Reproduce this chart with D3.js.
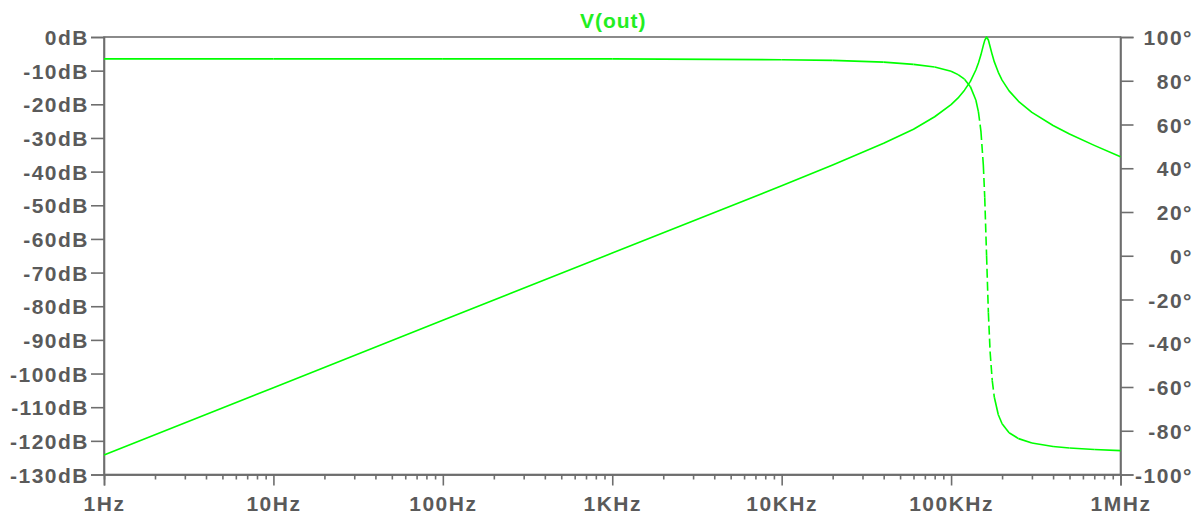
<!DOCTYPE html>
<html>
<head>
<meta charset="utf-8">
<script src="https://cdn.jsdelivr.net/npm/d3@7"></script>
<style>
  html, body { margin: 0; padding: 0; background: #ffffff; }
  svg { display: block; }
  .lbl { font-family: "Liberation Sans", Arial, sans-serif; font-weight: bold; font-size: 21px; fill: #5a5a5a; letter-spacing: 1.5px; }
</style>
</head>
<body>
<svg id="chart" width="1203" height="519"></svg>
<script>
// AC sweep of V(out): frequency (Hz), magnitude (dB), phase (degrees)
const freq = [1, 10, 100, 1e3, 1e4, 2e4, 4e4, 6e4, 8e4, 1e5, 1.1e5, 1.2e5, 1.3e5, 1.4e5, 1.45e5,
  1.5e5, 1.55e5, 1.58e5, 1.62e5, 1.66e5, 1.7e5, 1.75e5, 1.8e5, 1.9e5, 2e5, 2.2e5, 2.5e5,
  3e5, 4e5, 5e5, 7e5, 1e6];
const magDb = [-124.2, -104.2, -84.2, -64.2, -44.2, -38.0, -31.6, -27.4, -23.7, -20.1, -18.1,
  -15.8, -13.2, -9.8, -7.7, -5.3, -2.5, -1.0, 0.0, -0.9, -2.9, -5.3, -7.4, -10.5, -12.8,
  -16.0, -19.1, -22.4, -26.3, -28.8, -32.2, -35.6];
const phaseDeg = [90.0, 90.0, 90.0, 90.0, 89.6, 89.3, 88.5, 87.5, 86.3, 84.3, 82.8, 80.7, 77.3,
  71.2, 65.8, 57.0, 41.5, 26.6, 0.0, -26.0, -44.0, -57.1, -64.7, -72.7, -76.8, -80.9,
  -83.6, -85.6, -87.2, -87.9, -88.6, -89.1];

// Axis tick values and labels
const freqTicks = [1, 10, 100, 1e3, 1e4, 1e5, 1e6];
const freqLabels = ["1Hz", "10Hz", "100Hz", "1KHz", "10KHz", "100KHz", "1MHz"];
const dbTicks = [0, -10, -20, -30, -40, -50, -60, -70, -80, -90, -100, -110, -120, -130];
const degTicks = [100, 80, 60, 40, 20, 0, -20, -40, -60, -80, -100];
const traceName = "V(out)";

const svg = d3.select("#chart");
const L = 104, R = 1120.5, T = 37, B = 474.5;
const axisColor = "#6e6e6e";
const traceColor = "#00ff00";

const x = d3.scaleLog().domain([1, 1e6]).range([L, R]);
const yDb = d3.scaleLinear().domain([-130, 0]).range([B, T]);
const yDeg = d3.scaleLinear().domain([-100, 100]).range([B, T]);

// frame
const frame = svg.append("g").attr("stroke", axisColor).attr("stroke-width", 1.6).attr("fill", "none");
frame.append("rect").attr("x", L).attr("y", T).attr("width", R - L).attr("height", B - T);

// left dB axis
const leftAxis = d3.axisLeft(yDb).tickValues(dbTicks).tickSize(13).tickPadding(2)
  .tickFormat(d => d + "dB");
const gl = svg.append("g").attr("transform", `translate(${L},0)`).call(leftAxis);

// right phase axis
const rightAxis = d3.axisRight(yDeg).tickValues(degTicks).tickSize(13).tickPadding(0)
  .tickFormat(d => d + "°");
const gr = svg.append("g").attr("transform", `translate(${R},0)`).call(rightAxis);
gr.selectAll(".tick text").attr("text-anchor", "end").attr("x", 1193 - R);

// bottom frequency axis: major ticks with labels, minor ticks per decade
const minorTicks = [];
for (let d = 0; d < 6; d++) for (let m = 2; m <= 9; m++) minorTicks.push(m * Math.pow(10, d));
const gbMinor = svg.append("g").attr("transform", `translate(0,${B})`)
  .call(d3.axisBottom(x).tickValues(minorTicks).tickSize(5).tickFormat(""));
const gb = svg.append("g").attr("transform", `translate(0,${B})`)
  .call(d3.axisBottom(x).tickValues(freqTicks).tickSize(11).tickPadding(10)
    .tickFormat((d, i) => freqLabels[i]));

[gl, gr, gb, gbMinor].forEach(g => {
  g.select(".domain").attr("stroke", axisColor).attr("stroke-width", 1.6);
  g.selectAll(".tick line").attr("stroke", axisColor).attr("stroke-width", 1.6);
  g.selectAll(".tick text").attr("class", "lbl").attr("fill", null);
});
gl.selectAll(".tick text").attr("dy", "0.36em");
gr.selectAll(".tick text").attr("dy", "0.36em");
gb.selectAll(".tick text").attr("dy", "0.74em");

// magnitude trace (solid)
const magLine = d3.line().x((d, i) => x(freq[i])).y(d => yDb(d));
svg.append("path").datum(magDb).attr("d", magLine)
  .attr("fill", "none").attr("stroke", traceColor).attr("stroke-width", 1.6)
  .attr("stroke-linejoin", "round");

// phase trace: drawn segment by segment, steep segments dashed
const gPhase = svg.append("g").attr("fill", "none").attr("stroke", traceColor)
  .attr("stroke-width", 1.6).attr("stroke-linecap", "butt");
for (let i = 0; i < freq.length - 1; i++) {
  const x1 = x(freq[i]), y1 = yDeg(phaseDeg[i]);
  const x2 = x(freq[i + 1]), y2 = yDeg(phaseDeg[i + 1]);
  const steep = Math.abs(y2 - y1) > 5 * Math.abs(x2 - x1);
  gPhase.append("line").attr("x1", x1).attr("y1", y1).attr("x2", x2).attr("y2", y2)
    .attr("stroke-dasharray", steep ? "9,4" : null);
}

// trace title
svg.append("text").attr("x", (L + R) / 2 + 1).attr("y", 28)
  .attr("text-anchor", "middle")
  .style("font-family", '"Liberation Sans", Arial, sans-serif')
  .style("font-weight", "bold").style("font-size", "21px").style("letter-spacing", "1px")
  .attr("fill", "#22ee22").text(traceName);
</script>
</body>
</html>
